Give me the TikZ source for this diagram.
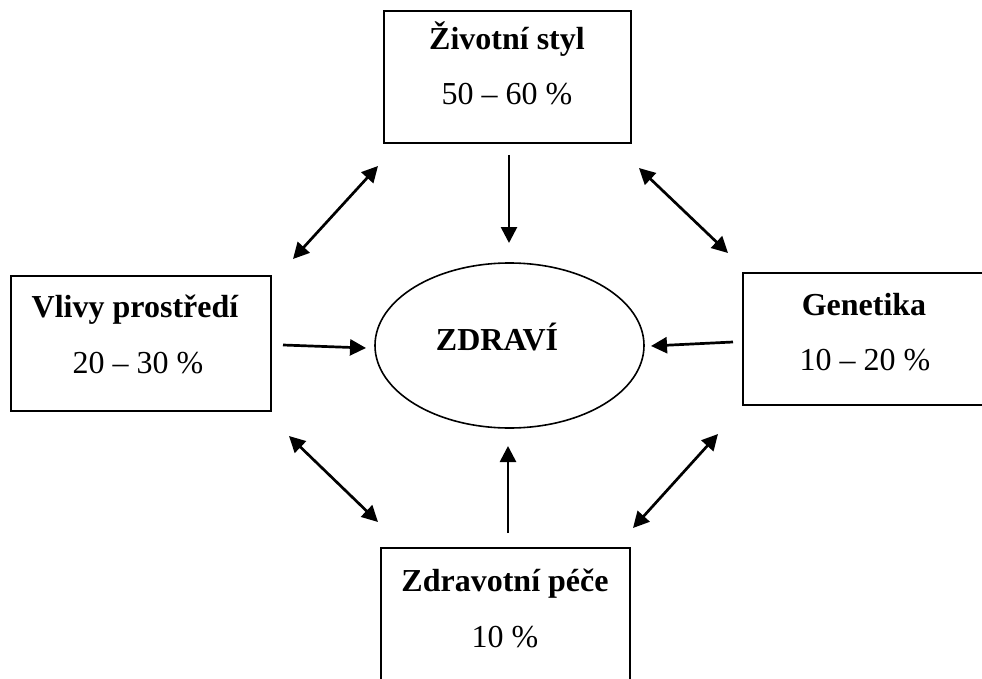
\documentclass[tikz,border=0pt]{standalone}
\usepackage{fontspec}
\setmainfont{Liberation Serif}
\usetikzlibrary{arrows.meta,shapes.geometric}
\tikzset{
  box/.style={draw, line width=2pt, inner sep=0pt},
  ttl/.style={font=\fontsize{32}{38}\selectfont\bfseries, anchor=base, inner sep=0pt},
  val/.style={font=\fontsize{32}{38}\selectfont, anchor=base, inner sep=0pt},
  arr/.style={line width=2.7pt, -{Triangle[length=16pt,width=16pt]}},
  darr/.style={line width=2.7pt, {Triangle[length=16pt,width=16pt]}-{Triangle[length=16pt,width=16pt]}}
}
\begin{document}
\begin{tikzpicture}[x=1pt,y=-1pt]
\useasboundingbox (0,0) rectangle (982,679);
\begin{scope}
\clip (0,0) rectangle (982,679);
% boxes
\node[box, minimum width=247pt, minimum height=132pt] (top) at (507.5,77) {};
\node[box, minimum width=260pt, minimum height=135pt] (left) at (141,343.5) {};
\node[box, minimum width=250pt, minimum height=132pt] (right) at (868,339) {};
\node[box, minimum width=249pt, minimum height=150pt] (bottom) at (505.5,623) {};
% ellipse
\node[draw, line width=1.6pt, ellipse, minimum width=269pt, minimum height=165pt, inner sep=0pt] (zdr) at (509.5,345.5) {};
\end{scope}
% texts
\node[ttl] (t1) at (507,50) {Životní styl};
\node[val] (v1) at (507,105) {50 – 60 \%};
\node[ttl] (t2) at (135,317) {Vlivy prostředí};
\node[val] (v2) at (138,373) {20 – 30 \%};
\node[ttl] (t3) at (864,315) {Genetika};
\node[val] (v3) at (865,370) {10 – 20 \%};
\node[ttl] (t4) at (505,591) {Zdravotní péče};
\node[val] (v4) at (505,647) {10 \%};
\node[ttl] (t5) at (497,350) {ZDRAVÍ};
% arrow ends
\coordinate (a1s) at (509,155); \coordinate (a1e) at (509,243);
\coordinate (a2s) at (283,345); \coordinate (a2e) at (366,348);
\coordinate (a3s) at (733,342); \coordinate (a3e) at (651,346);
\coordinate (a4s) at (508,533); \coordinate (a4e) at (508,446);
\coordinate (d1a) at (293,259); \coordinate (d1b) at (378,166);
\coordinate (d2a) at (639,168); \coordinate (d2b) at (728,253);
\coordinate (d3a) at (289,436); \coordinate (d3b) at (378,522);
\coordinate (d4a) at (718,434); \coordinate (d4b) at (633,528);
\draw[arr] (a1s) -- (a1e);
\draw[arr] (a2s) -- (a2e);
\draw[arr] (a3s) -- (a3e);
\draw[arr] (a4s) -- (a4e);
\draw[darr] (d1a) -- (d1b);
\draw[darr] (d2a) -- (d2b);
\draw[darr] (d3a) -- (d3b);
\draw[darr] (d4a) -- (d4b);
\end{tikzpicture}
\end{document}
